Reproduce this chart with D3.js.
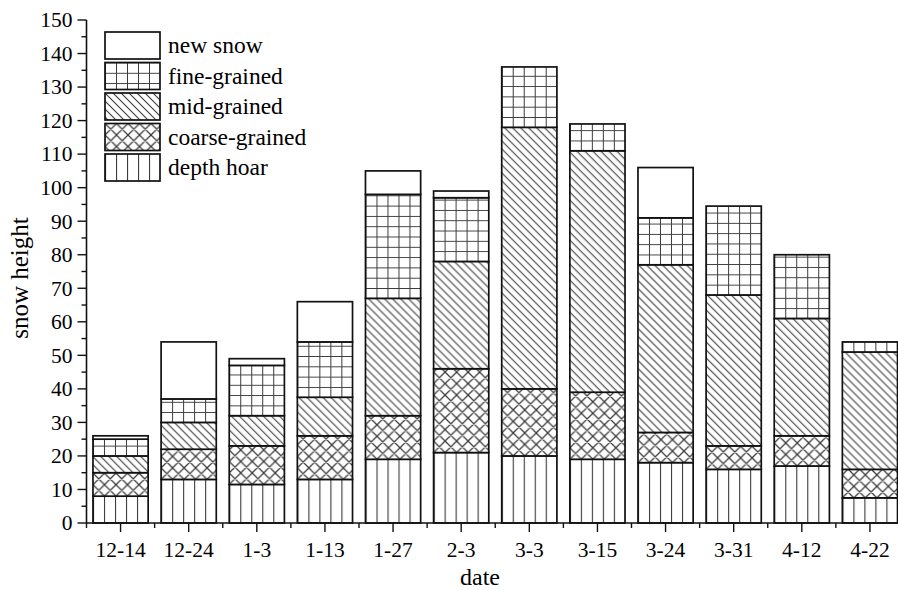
<!DOCTYPE html>
<html>
<head>
<meta charset="utf-8">
<script src="https://cdn.jsdelivr.net/npm/d3@7"></script>
<style>
  html, body { margin: 0; padding: 0; background: #fff; }
  svg { display: block; }
  text { font-family: "Liberation Serif", "Times New Roman", serif; fill: #000; }
</style>
</head>
<body>
<svg id="chart" width="898" height="590"></svg>
<script>
// ---- data ----
const categories = ["12-14","12-24","1-3","1-13","1-27","2-3","3-3","3-15","3-24","3-31","4-12","4-22"];
const depthHoar     = [8, 13, 11.5, 13, 19, 21, 20, 19, 18, 16, 17, 7.5];
const coarseGrained = [7, 9, 11.5, 13, 13, 25, 20, 20, 9, 7, 9, 8.5];
const midGrained    = [5, 8, 9, 11.5, 35, 32, 78, 72, 50, 45, 35, 35];
const fineGrained   = [5, 7, 15, 16.5, 31, 19, 18, 8, 14, 26.5, 19, 3];
const newSnow       = [1, 17, 2, 12, 7, 2, 0, 0, 15, 0, 0, 0];
const seriesNames   = ["depth hoar","coarse-grained","mid-grained","fine-grained","new snow"];
const seriesKeys    = ["depth","coarse","mid","fine","new"];
const yTicks        = [0,10,20,30,40,50,60,70,80,90,100,110,120,130,140,150];

const rows = categories.map((c, i) => ({
  cat: c, depth: depthHoar[i], coarse: coarseGrained[i], mid: midGrained[i],
  fine: fineGrained[i], "new": newSnow[i]
}));

const svg = d3.select("#chart");
const x0 = 86.5, x1 = 904, yBottom = 523, yTop = 20;

const x = d3.scaleBand().domain(categories).range([x0, x1])
  .paddingInner(0.19).paddingOuter(0.095);
const y = d3.scaleLinear().domain([0, 150]).range([yBottom, yTop]);

const stack = d3.stack().keys(seriesKeys);
const layers = stack(rows);

const defs = svg.append("defs");
const hatchColor = "#3c3c3c";

function makePattern(id, key, ox, oy) {
  if (key === "new") return null;
  let p;
  if (key === "depth") {
    p = defs.append("pattern").attr("id", id).attr("patternUnits", "userSpaceOnUse")
      .attr("x", ox).attr("y", 0).attr("width", 11).attr("height", 20);
    p.append("rect").attr("width", 11).attr("height", 20).attr("fill", "#fff");
    p.append("line").attr("x1", 0).attr("x2", 0).attr("y1", 0).attr("y2", 20)
      .attr("stroke", hatchColor).attr("stroke-width", 2.2);
  } else if (key === "coarse") {
    p = defs.append("pattern").attr("id", id).attr("patternUnits", "userSpaceOnUse")
      .attr("x", ox).attr("y", oy).attr("width", 11.5).attr("height", 11.5);
    p.append("rect").attr("width", 11.5).attr("height", 11.5).attr("fill", "#fff");
    p.append("path").attr("d", "M0,0 L11.5,11.5 M11.5,0 L0,11.5 M-1,10.5 L1,12.5 M10.5,-1 L12.5,1 M-1,1 L1,-1 M10.5,12.5 L12.5,10.5")
      .attr("stroke", hatchColor).attr("stroke-width", 1.3).attr("fill", "none");
  } else if (key === "mid") {
    p = defs.append("pattern").attr("id", id).attr("patternUnits", "userSpaceOnUse")
      .attr("x", ox).attr("y", oy).attr("width", 8).attr("height", 8);
    p.append("rect").attr("width", 8).attr("height", 8).attr("fill", "#fff");
    p.append("path").attr("d", "M0,0 L8,8 M-1,7 L1,9 M7,-1 L9,1")
      .attr("stroke", hatchColor).attr("stroke-width", 1.1).attr("fill", "none");
  } else if (key === "fine") {
    p = defs.append("pattern").attr("id", id).attr("patternUnits", "userSpaceOnUse")
      .attr("x", ox).attr("y", oy).attr("width", 11).attr("height", 10.3);
    p.append("rect").attr("width", 11).attr("height", 10.3).attr("fill", "#fff");
    p.append("path").attr("d", "M0,0 L0,10.3 M0,0 L11,0")
      .attr("stroke", hatchColor).attr("stroke-width", 2.0).attr("fill", "none");
  }
  return "url(#" + id + ")";
}

// bars
const gBars = svg.append("g");
layers.forEach((layer) => {
  const key = layer.key;
  layer.forEach((d, i) => {
    const h = y(d[0]) - y(d[1]);
    if (h <= 0) return;
    const bx = x(categories[i]);
    const fill = key === "new" ? "#fff"
      : makePattern("p_" + key + "_" + i, key, bx, y(d[0]));
    gBars.append("rect")
      .attr("x", bx).attr("y", y(d[1]))
      .attr("width", x.bandwidth()).attr("height", h)
      .attr("fill", fill)
      .attr("stroke", "#111").attr("stroke-width", 1.7);
  });
});

// y axis
const gy = svg.append("g");
gy.append("line").attr("x1", x0).attr("x2", x0).attr("y1", yBottom + 0.5).attr("y2", yTop)
  .attr("stroke", "#111").attr("stroke-width", 1.6);
const minorY = d3.range(5, 150, 10);
gy.selectAll(".minY").data(minorY).enter().append("line")
  .attr("x1", x0 - 5).attr("x2", x0).attr("y1", d => y(d)).attr("y2", d => y(d))
  .attr("stroke", "#111").attr("stroke-width", 1.4);
gy.selectAll(".majY").data(yTicks).enter().append("line")
  .attr("x1", x0 - 9).attr("x2", x0).attr("y1", d => y(d)).attr("y2", d => y(d))
  .attr("stroke", "#111").attr("stroke-width", 1.4);
gy.selectAll(".labY").data(yTicks).enter().append("text")
  .attr("x", x0 - 14).attr("y", d => y(d)).attr("dy", "0.34em")
  .attr("text-anchor", "end").attr("font-size", 21.5).text(d => d);

// x axis
const gx = svg.append("g");
gx.append("line").attr("x1", x0).attr("x2", x1).attr("y1", yBottom).attr("y2", yBottom)
  .attr("stroke", "#111").attr("stroke-width", 1.6);
const step = x.step();
const boundaries = categories.map(c => x(c) - (step - x.bandwidth()) / 2);
gx.selectAll(".minX").data(boundaries).enter().append("line")
  .attr("x1", d => d).attr("x2", d => d).attr("y1", yBottom).attr("y2", yBottom + 5)
  .attr("stroke", "#111").attr("stroke-width", 1.4);
gx.selectAll(".majX").data(categories).enter().append("line")
  .attr("x1", d => x(d) + x.bandwidth() / 2).attr("x2", d => x(d) + x.bandwidth() / 2)
  .attr("y1", yBottom).attr("y2", yBottom + 9)
  .attr("stroke", "#111").attr("stroke-width", 1.4);
gx.selectAll(".labX").data(categories).enter().append("text")
  .attr("x", d => x(d) + x.bandwidth() / 2).attr("y", 557)
  .attr("text-anchor", "middle").attr("font-size", 21.5).text(d => d);

// axis titles
svg.append("text").attr("x", 480).attr("y", 585).attr("text-anchor", "middle")
  .attr("font-size", 24).text("date");
svg.append("text").attr("transform", "translate(28,278) rotate(-90)")
  .attr("text-anchor", "middle").attr("font-size", 25).text("snow height");

// legend (top to bottom: new snow ... depth hoar)
const legendOrder = [4, 3, 2, 1, 0];
const gl = svg.append("g");
legendOrder.forEach((si, j) => {
  const key = seriesKeys[si];
  const ly = 32 + j * 30.5;
  const fill = key === "new" ? "#fff" : makePattern("leg_" + key, key, 105, ly);
  gl.append("rect").attr("x", 105).attr("y", ly).attr("width", 55).attr("height", 27)
    .attr("fill", fill).attr("stroke", "#111").attr("stroke-width", 1.7);
  gl.append("text").attr("x", 168).attr("y", ly + 21).attr("font-size", 23.5)
    .text(seriesNames[si]);
});
</script>
</body>
</html>
